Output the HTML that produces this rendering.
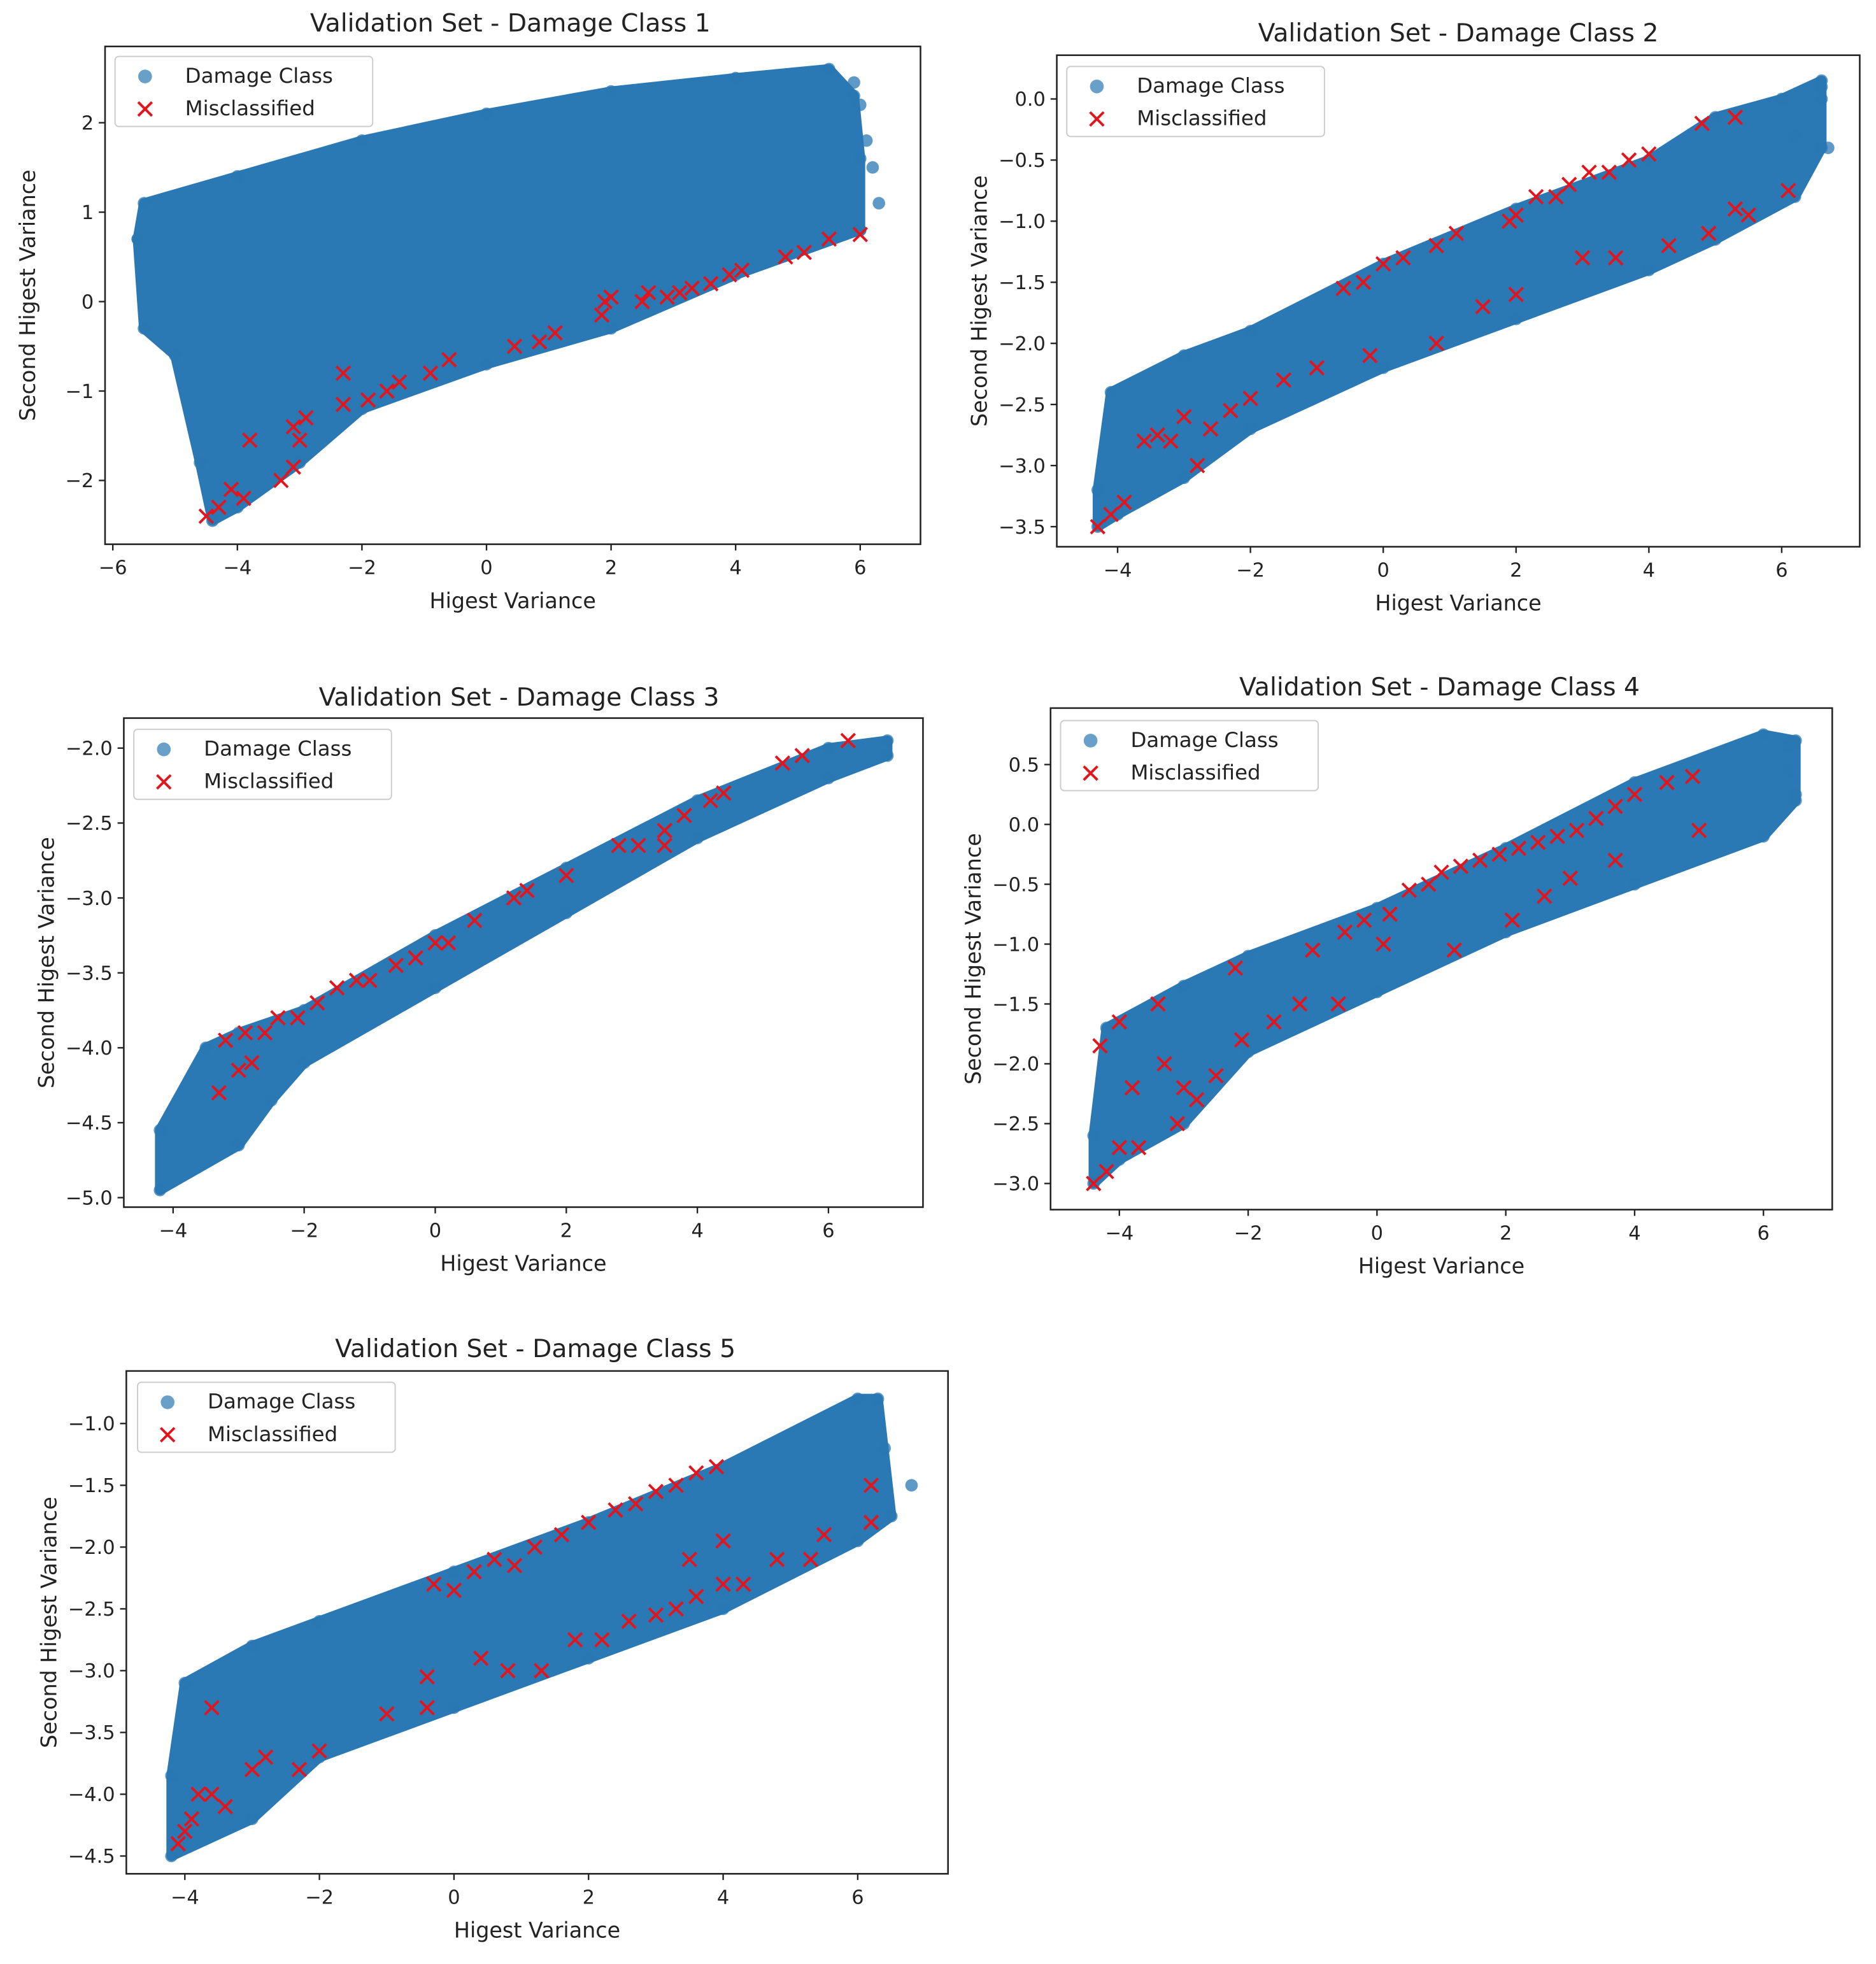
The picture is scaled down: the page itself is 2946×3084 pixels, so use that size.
<!DOCTYPE html>
<html><head><meta charset="utf-8"><style>
html,body{margin:0;padding:0;background:#fff}
svg{display:block}
text{font-family:"DejaVu Sans","Liberation Sans",sans-serif;fill:#222}
</style></head><body>
<svg id="fig" width="2946" height="3084" viewBox="0 0 1500 1570" xmlns="http://www.w3.org/2000/svg"></svg>
<script>
// ---- chart data (data units) ----
const titles = ["Validation Set - Damage Class 1","Validation Set - Damage Class 2","Validation Set - Damage Class 3","Validation Set - Damage Class 4","Validation Set - Damage Class 5"];
const xTicks1=[-6,-4,-2,0,2,4,6], yTicks1=[-2,-1,0,1,2];
const xTicks2=[-4,-2,0,2,4,6], yTicks2=[-3.5,-3.0,-2.5,-2.0,-1.5,-1.0,-0.5,0.0];
const xTicks3=[-4,-2,0,2,4,6], yTicks3=[-5.0,-4.5,-4.0,-3.5,-3.0,-2.5,-2.0];
const xTicks4=[-4,-2,0,2,4,6], yTicks4=[-3.0,-2.5,-2.0,-1.5,-1.0,-0.5,0.0,0.5];
const xTicks5=[-4,-2,0,2,4,6], yTicks5=[-4.5,-4.0,-3.5,-3.0,-2.5,-2.0,-1.5,-1.0];

// cloud envelopes
const upper1=[[-5.6,0.7],[-5.5,1.1],[-4,1.4],[-2,1.8],[0,2.1],[2,2.35],[4,2.5],[5.5,2.6],[5.9,2.3],[6,1.6],[6,0.8]];
const lower1=[[-5.6,0.7],[-5.5,-0.3],[-5,-0.6],[-4.6,-1.8],[-4.4,-2.45],[-4,-2.3],[-3,-1.8],[-2,-1.2],[0,-0.7],[2,-0.3],[4,0.3],[6,0.8]];
const extra1=[[6.3,1.1],[6.2,1.5],[6.0,2.2],[5.9,2.45],[6.1,1.8]];
const mis1=[[-4.5,-2.4],[-4.3,-2.3],[-4.1,-2.1],[-3.9,-2.2],[-3.8,-1.55],[-3.3,-2.0],[-3.1,-1.85],[-3.1,-1.4],[-3,-1.55],[-2.9,-1.3],[-2.3,-1.15],[-2.3,-0.8],[-1.9,-1.1],[-1.6,-1.0],[-1.4,-0.9],[-0.9,-0.8],[-0.6,-0.65],[0.45,-0.5],[0.85,-0.45],[1.1,-0.35],[1.85,-0.15],[1.9,0.0],[2.0,0.05],[2.5,0.0],[2.6,0.1],[2.9,0.05],[3.1,0.1],[3.3,0.15],[3.6,0.2],[3.9,0.3],[4.1,0.35],[4.8,0.5],[5.1,0.55],[5.5,0.7],[6.0,0.75]];

const upper2=[[-4.3,-3.2],[-4.1,-2.4],[-3,-2.1],[-2,-1.9],[0,-1.35],[2,-0.9],[4,-0.5],[5,-0.15],[6,0.0],[6.6,0.15]];
const lower2=[[-4.3,-3.5],[-4,-3.4],[-3,-3.1],[-2,-2.7],[0,-2.2],[2,-1.8],[4,-1.4],[5,-1.15],[6.2,-0.8],[6.6,-0.4]];
const extra2=[[6.6,0.1],[6.6,0.0],[6.7,-0.4],[6.2,-0.3]];
const mis2=[[-4.3,-3.5],[-4.1,-3.4],[-3.9,-3.3],[-3.6,-2.8],[-3.4,-2.75],[-3.2,-2.8],[-3.0,-2.6],[-2.8,-3.0],[-2.6,-2.7],[-2.3,-2.55],[-2,-2.45],[-1.5,-2.3],[-1.0,-2.2],[-0.6,-1.55],[-0.3,-1.5],[0,-1.35],[0.3,-1.3],[0.8,-1.2],[1.1,-1.1],[1.5,-1.7],[1.9,-1.0],[2.0,-0.95],[2.3,-0.8],[2.6,-0.8],[2.8,-0.7],[3.1,-0.6],[3.4,-0.6],[3.7,-0.5],[4.0,-0.45],[2.0,-1.6],[3.0,-1.3],[3.5,-1.3],[4.3,-1.2],[4.9,-1.1],[5.3,-0.9],[5.5,-0.95],[6.1,-0.75],[4.8,-0.2],[5.3,-0.15],[0.8,-2.0],[-0.2,-2.1]];

const upper3=[[-4.2,-4.55],[-3.5,-4.0],[-3,-3.9],[-2,-3.75],[0,-3.25],[2,-2.8],[4,-2.35],[6,-2.0],[6.9,-1.95]];
const lower3=[[-4.2,-4.95],[-3,-4.65],[-2.5,-4.35],[-2,-4.1],[0,-3.6],[2,-3.1],[4,-2.6],[6,-2.2],[6.9,-2.05]];
const extra3=[];
const mis3=[[-3.3,-4.3],[-3.2,-3.95],[-3.0,-4.15],[-2.9,-3.9],[-2.8,-4.1],[-2.6,-3.9],[-2.4,-3.8],[-2.1,-3.8],[-1.8,-3.7],[-1.5,-3.6],[-1.2,-3.55],[-1.0,-3.55],[-0.6,-3.45],[-0.3,-3.4],[0,-3.3],[0.2,-3.3],[0.6,-3.15],[1.2,-3.0],[1.4,-2.95],[2.0,-2.85],[2.8,-2.65],[3.1,-2.65],[3.5,-2.55],[3.5,-2.65],[3.8,-2.45],[4.2,-2.35],[4.4,-2.3],[5.3,-2.1],[5.6,-2.05],[6.3,-1.95]];

const upper4=[[-4.4,-2.6],[-4.2,-1.7],[-3,-1.35],[-2,-1.1],[0,-0.7],[2,-0.2],[4,0.35],[6,0.75],[6.5,0.7]];
const lower4=[[-4.4,-3.0],[-4,-2.8],[-3,-2.5],[-2,-1.9],[0,-1.4],[2,-0.9],[4,-0.5],[6,-0.1],[6.5,0.2]];
const extra4=[[6.4,0.45],[6.5,0.25],[6.4,0.65]];
const mis4=[[-4.4,-3.0],[-4.3,-1.85],[-4.2,-2.9],[-4.0,-1.65],[-4.0,-2.7],[-3.8,-2.2],[-3.7,-2.7],[-3.4,-1.5],[-3.3,-2.0],[-3.1,-2.5],[-3.0,-2.2],[-2.8,-2.3],[-2.5,-2.1],[-2.2,-1.2],[-2.1,-1.8],[-1.6,-1.65],[-1.2,-1.5],[-1.0,-1.05],[-0.6,-1.5],[-0.5,-0.9],[-0.2,-0.8],[0.2,-0.75],[0.5,-0.55],[0.8,-0.5],[1.0,-0.4],[1.3,-0.35],[1.6,-0.3],[1.9,-0.25],[2.2,-0.2],[2.5,-0.15],[2.8,-0.1],[3.1,-0.05],[3.4,0.05],[3.7,0.15],[4.0,0.25],[4.5,0.35],[4.9,0.4],[1.2,-1.05],[2.1,-0.8],[2.6,-0.6],[3.0,-0.45],[3.7,-0.3],[5.0,-0.05],[0.1,-1.0]];

const upper5=[[-4.2,-3.85],[-4,-3.1],[-3,-2.8],[-2,-2.6],[0,-2.2],[2,-1.8],[4,-1.35],[6,-0.8],[6.3,-0.8]];
const lower5=[[-4.2,-4.5],[-3,-4.2],[-2,-3.7],[0,-3.3],[2,-2.9],[4,-2.5],[6,-1.95],[6.5,-1.75]];
const extra5=[[6.8,-1.5],[6.4,-1.2]];
const mis5=[[-4.1,-4.4],[-4.0,-4.3],[-3.9,-4.2],[-3.8,-4.0],[-3.6,-4.0],[-3.4,-4.1],[-3.6,-3.3],[-3.0,-3.8],[-2.8,-3.7],[-2.3,-3.8],[-2.0,-3.65],[-1.0,-3.35],[-0.4,-3.3],[-0.4,-3.05],[-0.3,-2.3],[0,-2.35],[0.3,-2.2],[0.6,-2.1],[0.9,-2.15],[1.2,-2.0],[1.6,-1.9],[2.0,-1.8],[2.4,-1.7],[2.7,-1.65],[3.0,-1.55],[3.3,-1.5],[3.6,-1.4],[3.9,-1.35],[0.4,-2.9],[0.8,-3.0],[1.3,-3.0],[1.8,-2.75],[2.2,-2.75],[2.6,-2.6],[3.0,-2.55],[3.3,-2.5],[3.6,-2.4],[4.0,-2.3],[4.3,-2.3],[4.8,-2.1],[5.3,-2.1],[5.5,-1.9],[6.2,-1.5],[6.2,-1.8],[4.0,-1.95],[3.5,-2.1]];

// ---- layout (px in 1500-wide frame) ----
const panels=[
 {box:[84,37,736,435],x:[0,389,49.8],y:[0,241,71.5],xt:xTicks1,yt:yTicks1,up:upper1,lo:lower1,ex:extra1,mis:mis1,title:[408,18],leg:[92,45],dec:0},
 {box:[845,44,1487,437],x:[0,1106,53.1],y:[0,79,97.7],xt:xTicks2,yt:yTicks2,up:upper2,lo:lower2,ex:extra2,mis:mis2,title:[1166,26],leg:[853,53],dec:1},
 {box:[99,574,738,965],x:[0,348,52.4],y:[-2,598,119.8],xt:xTicks3,yt:yTicks3,up:upper3,lo:lower3,ex:extra3,mis:mis3,title:[415,557],leg:[107,583],dec:1},
 {box:[840,566,1465,967],x:[0,1101,51.5],y:[0,659,95.7],xt:xTicks4,yt:yTicks4,up:upper4,lo:lower4,ex:extra4,mis:mis4,title:[1151,549],leg:[848,576],dec:1},
 {box:[101,1096,758,1498],x:[0,363,53.8],y:[-1,1138,98.8],xt:xTicks5,yt:yTicks5,up:upper5,lo:lower5,ex:extra5,mis:mis5,title:[428,1078],leg:[110,1105],dec:1}
];
const svg=document.getElementById('fig');
const NS="http://www.w3.org/2000/svg";
function mk(tag,attrs,parent){const e=document.createElementNS(NS,tag);for(const k in attrs)e.setAttribute(k,attrs[k]);(parent||svg).appendChild(e);return e;}
const BLUE="#2a78b4", RED="#e3141b";
panels.forEach((p,i)=>{
  const g=mk('g',{});
  
  
  const sx=v=>p.x[1]+(v-p.x[0])*p.x[2];
  const sy=v=>p.y[1]-(v-p.y[0])*p.y[2];
  const [x0,y0,x1,y1]=p.box;
  // cloud
  const pts=p.up.map(d=>sx(d[0])+','+sy(d[1])).concat(p.lo.slice().reverse().map(d=>sx(d[0])+','+sy(d[1])));
  const poly=mk('polygon',{points:pts.join(' '),fill:BLUE,stroke:BLUE,'stroke-width':8,'stroke-linejoin':'round'},g);
  
  
  p.up.concat(p.lo).concat(p.ex).forEach(d=>{
    const c=mk('circle',{cx:sx(d[0]),cy:sy(d[1]),r:5,fill:BLUE,'fill-opacity':0.75},g);
    
    
  });
  // misclassified
  p.mis.forEach(d=>{
    const cx=sx(d[0]),cy=sy(d[1]),s=5.5;
    const m=mk('path',{d:`M${cx-s},${cy-s}L${cx+s},${cy+s}M${cx-s},${cy+s}L${cx+s},${cy-s}`,stroke:RED,'stroke-width':2},g);
    
    
  });
  // frame
  const fr=mk('rect',{x:x0,y:y0,width:x1-x0,height:y1-y0,fill:'none',stroke:'#222','stroke-width':1.3},g);
  
  
  p.xt.forEach(v=>{
    const X=sx(v);
    mk('line',{x1:X,x2:X,y1:y1,y2:y1+5,stroke:'#222','stroke-width':1.2},g);
    const t=mk('text',{x:X,y:y1+24,'text-anchor':'middle','font-size':15.5},g);
    t.textContent=(v<0?'\u2212'+(-v):v);
    
    
  });
  p.yt.forEach(v=>{
    const Y=sy(v);
    mk('line',{x1:x0-5,x2:x0,y1:Y,y2:Y,stroke:'#222','stroke-width':1.2},g);
    const s=Math.abs(v).toFixed(p.dec);
    const t=mk('text',{x:x0-9,y:Y+5.5,'text-anchor':'end','font-size':15.5},g);
    t.textContent=(v<0?'\u2212':'')+s;
    
    
  });
  const xl=mk('text',{x:(x0+x1)/2,y:y1+51,'text-anchor':'middle','font-size':17},g);
  xl.textContent='Higest Variance';
  
  
  const yl=mk('text',{x:0,y:0,'text-anchor':'middle','font-size':17,transform:`translate(${x0-56},${(y0+y1)/2}) rotate(-90)`},g);
  yl.textContent='Second Higest Variance';
  
  
  const tt=mk('text',{x:p.title[0],y:p.title[1]+7,'text-anchor':'middle','font-size':20},g);
  tt.textContent=titles[i];
  
  
  // legend
  const [lx,ly]=p.leg;
  const lg=mk('g',{},g);
  
  
  mk('rect',{x:lx,y:ly,width:206,height:56,rx:3,fill:'#fff','fill-opacity':0.85,stroke:'#ccc'},lg);
  mk('circle',{cx:lx+24,cy:ly+16,r:5.5,fill:BLUE,'fill-opacity':0.7},lg);
  const s=5.5,cx=lx+24,cy=ly+42;
  mk('path',{d:`M${cx-s},${cy-s}L${cx+s},${cy+s}M${cx-s},${cy+s}L${cx+s},${cy-s}`,stroke:RED,'stroke-width':2},lg);
  const t1=mk('text',{x:lx+56,y:ly+21,'font-size':16.5},lg);t1.textContent='Damage Class';
  
  
  const t2=mk('text',{x:lx+56,y:ly+47,'font-size':16.5},lg);t2.textContent='Misclassified';
  
  
});
</script>
</body></html>
